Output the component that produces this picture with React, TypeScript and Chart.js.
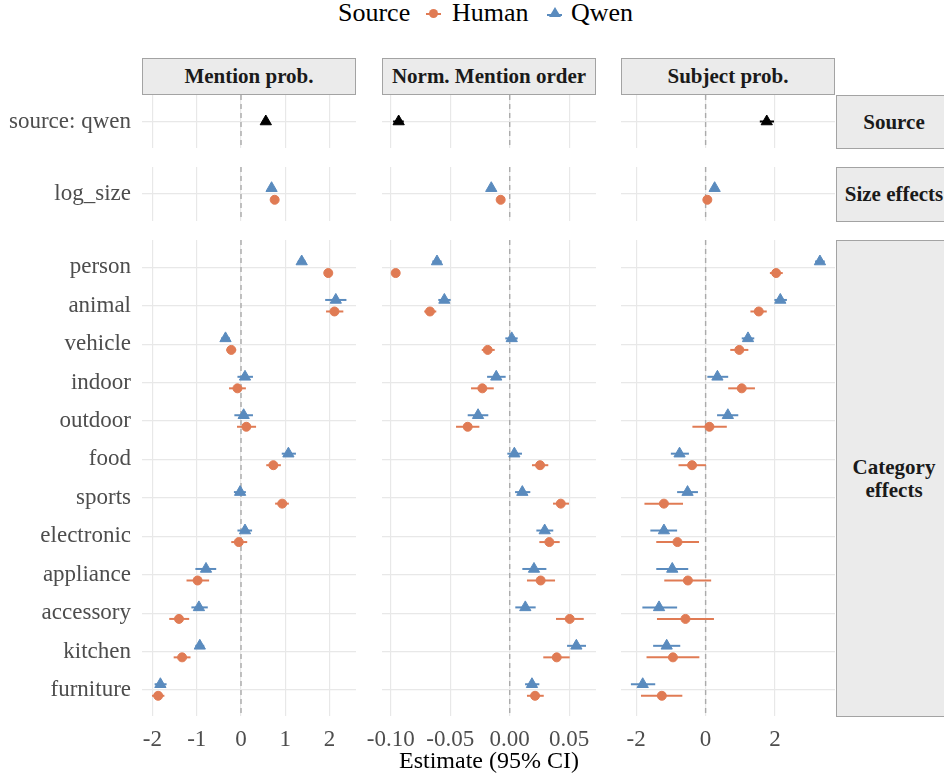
import React, { useEffect, useRef } from "react";
import { Chart, registerables } from "chart.js";
Chart.register(...registerables);

// ---------- data ----------
const categories = ["person", "animal", "vehicle", "indoor", "outdoor", "food", "sports", "electronic", "appliance", "accessory", "kitchen", "furniture"];
const sourceTerms = ["source: qwen"];
const sizeTerms = ["log_size"];
const metricNames = ["Mention prob.", "Norm. Mention order", "Subject prob."];
const rowStripNames = ["Source", "Size effects", "Category\neffects"];
const seriesNames = ["Human", "Qwen"];

// Mention prob.
const mentionSource = [0.56, 0.49, 0.63]; // est, lo, hi
const mentionSizeQwen = [0.69, 0.64, 0.74];
const mentionSizeHuman = [0.76, 0.72, 0.8];
const mentionQwenEst = [1.37, 2.14, -0.35, 0.09, 0.06, 1.07, -0.02, 0.09, -0.79, -0.95, -0.93, -1.82];
const mentionQwenLo = [1.28, 1.9, -0.45, -0.08, -0.15, 0.92, -0.16, -0.08, -1.03, -1.12, -1.03, -1.95];
const mentionQwenHi = [1.46, 2.38, -0.25, 0.27, 0.27, 1.24, 0.11, 0.25, -0.56, -0.75, -0.83, -1.68];
const mentionHumanEst = [1.97, 2.11, -0.22, -0.08, 0.12, 0.73, 0.93, -0.05, -0.98, -1.4, -1.33, -1.87];
const mentionHumanLo = [1.9, 1.92, -0.33, -0.27, -0.09, 0.57, 0.77, -0.22, -1.23, -1.62, -1.52, -2.01];
const mentionHumanHi = [2.04, 2.31, -0.11, 0.11, 0.34, 0.9, 1.08, 0.14, -0.72, -1.17, -1.14, -1.73];
const mentionTicks = [-2, -1, 0, 1, 2];
const mentionTickLabels = ["-2", "-1", "0", "1", "2"];

// Norm. Mention order
const orderSource = [-0.0933, -0.098, -0.089];
const orderSizeQwen = [-0.0155, -0.018, -0.013];
const orderSizeHuman = [-0.0076, -0.0098, -0.0054];
const orderQwenEst = [-0.0611, -0.0549, 0.0017, -0.0113, -0.0266, 0.0039, 0.0106, 0.0294, 0.0204, 0.0131, 0.056, 0.0187];
const orderQwenLo = [-0.065, -0.06, -0.0037, -0.019, -0.0353, -0.002, 0.0045, 0.0224, 0.0106, 0.0047, 0.0482, 0.0129];
const orderQwenHi = [-0.0572, -0.0496, 0.0067, -0.0034, -0.018, 0.0103, 0.0173, 0.0366, 0.0308, 0.0218, 0.0641, 0.0249];
const orderHumanEst = [-0.0958, -0.067, -0.0185, -0.023, -0.0353, 0.0255, 0.0429, 0.0333, 0.026, 0.0504, 0.0395, 0.0213];
const orderHumanLo = [-0.099, -0.0718, -0.0235, -0.0325, -0.0451, 0.0187, 0.0364, 0.0249, 0.0145, 0.0389, 0.0282, 0.0145];
const orderHumanHi = [-0.0926, -0.0617, -0.0126, -0.0134, -0.0255, 0.0324, 0.0498, 0.042, 0.0381, 0.0622, 0.0504, 0.0286];
const orderTicks = [-0.1, -0.05, 0, 0.05];
const orderTickLabels = ["-0.10", "-0.05", "0.00", "0.05"];

// Subject prob.
const subjectSource = [1.76, 1.56, 1.97];
const subjectSizeQwen = [0.26, 0.2, 0.32];
const subjectSizeHuman = [0.05, 0.0, 0.1];
const subjectQwenEst = [3.29, 2.15, 1.22, 0.34, 0.64, -0.75, -0.52, -1.2, -0.96, -1.34, -1.12, -1.81];
const subjectQwenLo = [3.15, 1.98, 1.04, 0.05, 0.33, -1.0, -0.82, -1.59, -1.42, -1.82, -1.51, -2.15];
const subjectQwenHi = [3.43, 2.34, 1.4, 0.65, 0.94, -0.48, -0.22, -0.82, -0.5, -0.82, -0.73, -1.45];
const subjectHumanEst = [2.03, 1.53, 0.97, 1.04, 0.11, -0.39, -1.2, -0.81, -0.51, -0.58, -0.94, -1.26];
const subjectHumanLo = [1.85, 1.29, 0.71, 0.65, -0.38, -0.78, -1.76, -1.42, -1.19, -1.4, -1.7, -1.86];
const subjectHumanHi = [2.22, 1.76, 1.23, 1.42, 0.61, 0.01, -0.65, -0.19, 0.16, 0.24, -0.18, -0.67];
const subjectTicks = [-2, 0, 2];
const subjectTickLabels = ["-2", "0", "2"];

// ---------- styling / layout ----------
const FONT = "'Liberation Serif', 'Times New Roman', serif";
const HUMAN_COLOR = "#E07B54";
const QWEN_COLOR = "#5A8BBE";
const GRID = "#E8E8E8";
const DODGE = 0.15;

const COL_L = [142, 382, 621];
const COL_R = [356, 596, 835];
const ROW_T = [95, 167, 240];
const ROW_B = [148, 221, 716];
const X_RANGE = [
  [-2.235, 2.596],
  [-0.1073, 0.0725],
  [-2.435, 3.724],
];
const Y_RANGE = [
  [-0.69, 0.69],
  [-0.7, 0.7],
  [-0.71, 11.676],
];

const metrics = [
  {
    source: mentionSource, sizeQ: mentionSizeQwen, sizeH: mentionSizeHuman,
    qE: mentionQwenEst, qL: mentionQwenLo, qH: mentionQwenHi,
    hE: mentionHumanEst, hL: mentionHumanLo, hH: mentionHumanHi,
    ticks: mentionTicks, tickLabels: mentionTickLabels,
  },
  {
    source: orderSource, sizeQ: orderSizeQwen, sizeH: orderSizeHuman,
    qE: orderQwenEst, qL: orderQwenLo, qH: orderQwenHi,
    hE: orderHumanEst, hL: orderHumanLo, hH: orderHumanHi,
    ticks: orderTicks, tickLabels: orderTickLabels,
  },
  {
    source: subjectSource, sizeQ: subjectSizeQwen, sizeH: subjectSizeHuman,
    qE: subjectQwenEst, qL: subjectQwenLo, qH: subjectQwenHi,
    hE: subjectHumanEst, hL: subjectHumanLo, hH: subjectHumanHi,
    ticks: subjectTicks, tickLabels: subjectTickLabels,
  },
];

const zeroLinePlugin = {
  id: "zeroLine",
  beforeDatasetsDraw(chart: any) {
    const { ctx, chartArea, scales } = chart;
    const x = scales.x.getPixelForValue(0);
    ctx.save();
    ctx.strokeStyle = "#ABABAB";
    ctx.lineWidth = 1.4;
    ctx.setLineDash([5, 4]);
    ctx.beginPath();
    ctx.moveTo(x, chartArea.top);
    ctx.lineTo(x, chartArea.bottom);
    ctx.stroke();
    ctx.restore();
  },
};

const errorBarPlugin = {
  id: "errorBars",
  beforeDatasetsDraw(chart: any) {
    const { ctx, chartArea, scales } = chart;
    ctx.save();
    ctx.beginPath();
    ctx.rect(chartArea.left, chartArea.top, chartArea.right - chartArea.left, chartArea.bottom - chartArea.top);
    ctx.clip();
    chart.data.datasets.forEach((ds: any) => {
      ctx.strokeStyle = ds.errorColor;
      ctx.lineWidth = 2;
      ds.data.forEach((p: any) => {
        const y = scales.y.getPixelForValue(p.y);
        ctx.beginPath();
        ctx.moveTo(scales.x.getPixelForValue(p.lo), y);
        ctx.lineTo(scales.x.getPixelForValue(p.hi), y);
        ctx.stroke();
      });
    });
    ctx.restore();
  },
};

function series(est: number[], lo: number[], hi: number[], offset: number) {
  return est.map((v, i) => ({ x: v, y: i + offset, lo: lo[i], hi: hi[i] }));
}

function pointDs(label: string, data: any[], color: string, triangle: boolean) {
  return {
    label,
    data,
    pointStyle: triangle ? "triangle" : "circle",
    pointRadius: triangle ? 6.5 : 4.5,
    pointBorderWidth: 1,
    backgroundColor: color,
    borderColor: color,
    errorColor: color,
    showLine: false,
  };
}

function buildConfig(r: number, c: number): any {
  const m = metrics[c];
  let labels: string[];
  let datasets: any[];
  if (r === 0) {
    labels = sourceTerms;
    datasets = [pointDs(seriesNames[1], series([m.source[0]], [m.source[1]], [m.source[2]], 0), "#000000", true)];
  } else if (r === 1) {
    labels = sizeTerms;
    datasets = [
      pointDs(seriesNames[0], series([m.sizeH[0]], [m.sizeH[1]], [m.sizeH[2]], DODGE), HUMAN_COLOR, false),
      pointDs(seriesNames[1], series([m.sizeQ[0]], [m.sizeQ[1]], [m.sizeQ[2]], -DODGE), QWEN_COLOR, true),
    ];
  } else {
    labels = categories;
    datasets = [
      pointDs(seriesNames[0], series(m.hE, m.hL, m.hH, DODGE), HUMAN_COLOR, false),
      pointDs(seriesNames[1], series(m.qE, m.qL, m.qH, -DODGE), QWEN_COLOR, true),
    ];
  }
  const bottomRow = r === 2;
  return {
    type: "scatter",
    data: { datasets },
    plugins: [zeroLinePlugin, errorBarPlugin],
    options: {
      animation: false,
      responsive: false,
      devicePixelRatio: 1,
      events: [],
      layout: { autoPadding: false, padding: { left: c === 0 ? 0 : 30, right: 20, top: 0, bottom: 0 } },
      plugins: { legend: { display: false }, tooltip: { enabled: false } },
      scales: {
        x: {
          type: "linear",
          position: "bottom",
          min: X_RANGE[c][0],
          max: X_RANGE[c][1],
          afterBuildTicks: (s: any) => {
            s.ticks = m.ticks.map((v) => ({ value: v }));
          },
          afterFit: (s: any) => {
            s.height = bottomRow ? 776 - ROW_B[2] : 0;
            s.paddingLeft = 0;
            s.paddingRight = 0;
            s.paddingTop = 0;
            s.paddingBottom = 0;
          },
          grid: { color: GRID, lineWidth: 1.2, drawTicks: false },
          border: { display: false },
          ticks: {
            display: bottomRow,
            autoSkip: false,
            maxRotation: 0,
            minRotation: 0,
            padding: 10,
            color: "#4D4D4D",
            font: { family: FONT, size: 23 },
            callback: (v: number) => {
              const i = m.ticks.findIndex((t) => Math.abs(t - v) < 1e-9);
              return i >= 0 ? m.tickLabels[i] : "";
            },
          },
          title: {
            display: bottomRow && c === 1,
            text: "Estimate (95% CI)",
            color: "#000000",
            font: { family: FONT, size: 24 },
            padding: 0,
          },
        },
        y: {
          type: "linear",
          position: "left",
          reverse: true,
          min: Y_RANGE[r][0],
          max: Y_RANGE[r][1],
          afterBuildTicks: (s: any) => {
            s.ticks = labels.map((_, i) => ({ value: i }));
          },
          afterFit: (s: any) => {
            s.width = c === 0 ? COL_L[0] : 0;
            s.paddingTop = 0;
            s.paddingBottom = 0;
            s.paddingLeft = 0;
            s.paddingRight = 0;
          },
          grid: { color: GRID, lineWidth: 1.2, drawTicks: false },
          border: { display: false },
          ticks: {
            display: c === 0,
            autoSkip: false,
            padding: 11,
            color: "#4D4D4D",
            font: { family: FONT, size: 23 },
            callback: (v: number) => {
              const i = Math.round(v);
              return Math.abs(i - v) < 1e-9 && labels[i] !== undefined ? labels[i] : "";
            },
          },
        },
      },
    },
  };
}

function Panel({ r, c }: { r: number; c: number }) {
  const ref = useRef<HTMLCanvasElement>(null);
  const left = c === 0 ? 0 : COL_L[c] - 30;
  const right = COL_R[c] + 20;
  const top = ROW_T[r];
  const bottom = r === 2 ? 776 : ROW_B[r];
  const w = right - left;
  const h = bottom - top;
  useEffect(() => {
    const chart = new Chart(ref.current as HTMLCanvasElement, buildConfig(r, c));
    return () => chart.destroy();
  }, [r, c]);
  return (
    <canvas
      ref={ref}
      width={w}
      height={h}
      style={{ position: "absolute", left, top, width: w, height: h, display: "block" }}
    />
  );
}

const stripStyle: React.CSSProperties = {
  position: "absolute",
  boxSizing: "border-box",
  background: "#EBEBEB",
  border: "1px solid #A3A3A3",
  display: "flex",
  alignItems: "center",
  justifyContent: "center",
  fontFamily: FONT,
  fontWeight: "bold",
  fontSize: 21,
  color: "#1A1A1A",
  textAlign: "center",
  whiteSpace: "pre-line",
  lineHeight: "23px",
};

export default function App() {
  const panels: JSX.Element[] = [];
  for (let r = 0; r < 3; r++) for (let c = 0; c < 3; c++) panels.push(<Panel key={`${r}-${c}`} r={r} c={c} />);
  return (
    <div
      style={{
        position: "absolute",
        left: 0,
        top: 0,
        width: 944,
        height: 776,
        overflow: "hidden",
        background: "#FFFFFF",
        fontFamily: FONT,
      }}
    >
      {/* legend */}
      <div style={{ position: "absolute", left: 338, top: -1, fontSize: 26, lineHeight: "28px", color: "#000" }}>Source</div>
      <div style={{ position: "absolute", left: 426, top: 12.5, width: 15, height: 2, background: HUMAN_COLOR }} />
      <div style={{ position: "absolute", left: 429, top: 9, width: 9, height: 9, borderRadius: "50%", background: HUMAN_COLOR }} />
      <div style={{ position: "absolute", left: 452, top: -1, fontSize: 26, lineHeight: "28px", color: "#000" }}>{seriesNames[0]}</div>
      <div style={{ position: "absolute", left: 547, top: 13.5, width: 15, height: 2, background: QWEN_COLOR }} />
      <div
        style={{
          position: "absolute",
          left: 548.5,
          top: 7,
          width: 0,
          height: 0,
          borderLeft: "6px solid transparent",
          borderRight: "6px solid transparent",
          borderBottom: "10px solid " + QWEN_COLOR,
        }}
      />
      <div style={{ position: "absolute", left: 571, top: -1, fontSize: 26, lineHeight: "28px", color: "#000" }}>{seriesNames[1]}</div>

      {/* column strips */}
      {metricNames.map((name, c) => (
        <div key={name} style={{ ...stripStyle, left: COL_L[c], top: 58, width: COL_R[c] - COL_L[c], height: 37 }}>
          {name}
        </div>
      ))}
      {/* row strips */}
      {rowStripNames.map((name, r) => (
        <div key={name} style={{ ...stripStyle, left: 836, top: ROW_T[r], width: 116, height: ROW_B[r] - ROW_T[r] + 1 }}>
          {name}
        </div>
      ))}

      {panels}
    </div>
  );
}
